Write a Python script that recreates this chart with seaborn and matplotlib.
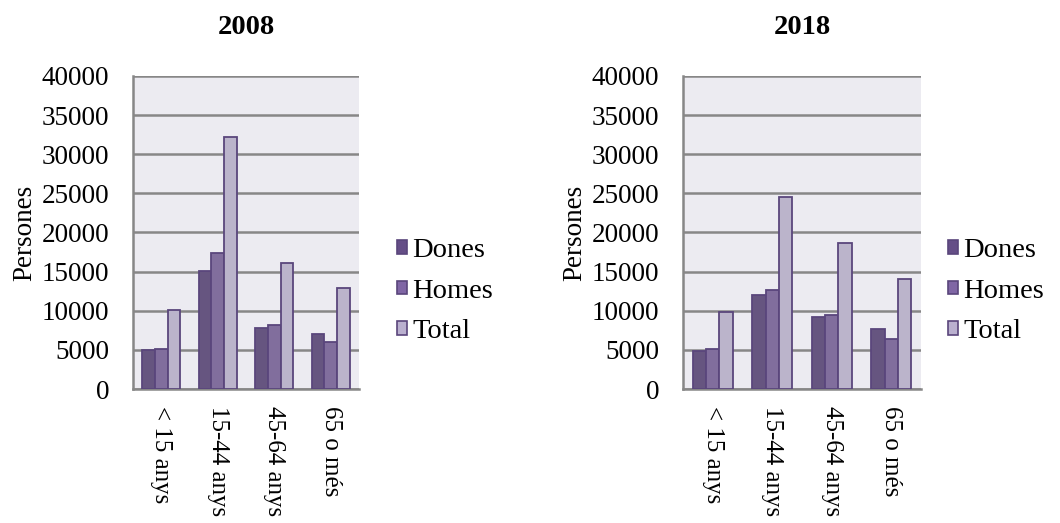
import pandas as pd
import matplotlib.pyplot as plt
import seaborn as sns
from matplotlib.patches import Patch

# age groups and series
groups = ['< 15 anys', '15-44 anys', '45-64 anys', '65 o més']
series = ['Dones', 'Homes', 'Total']

dones_2008 = [4950, 15020, 7850, 7000]
homes_2008 = [5160, 17320, 8190, 5970]
total_2008 = [10070, 32250, 16040, 12930]

dones_2018 = [4820, 11950, 9170, 7720]
homes_2018 = [5120, 12710, 9470, 6440]
total_2018 = [9810, 24570, 18640, 14120]

colors = ['#654e87', '#8066a5', '#bab0cf']
edge = '#5a467c'
grid_col = '#878787'
bg = '#ecebf1'

sns.set_style('white')
plt.rcParams['font.family'] = ['Liberation Serif', 'DejaVu Serif']
plt.rcParams['text.color'] = 'black'
plt.rcParams['xtick.color'] = 'black'
plt.rcParams['ytick.color'] = 'black'
plt.rcParams['axes.labelcolor'] = 'black'


def long_table(dones, homes, total):
    rows = []
    for name, vals in zip(series, [dones, homes, total]):
        for g, v in zip(groups, vals):
            rows.append({'grup': g, 'serie': name, 'persones': v})
    return pd.DataFrame(rows)


fig = plt.figure(figsize=(10.6, 5.23), dpi=100)
ax1 = fig.add_axes([0.1255, 0.2562, 0.2132, 0.5985])
ax2 = fig.add_axes([0.6443, 0.2562, 0.2245, 0.5985])

panels = [
    (ax1, '2008', long_table(dones_2008, homes_2008, total_2008)),
    (ax2, '2018', long_table(dones_2018, homes_2018, total_2018)),
]

for ax, year, df in panels:
    sns.barplot(data=df, x='grup', y='persones', hue='serie', order=groups,
                hue_order=series, palette=colors, width=0.67, ax=ax,
                edgecolor=edge, linewidth=1.3, legend=False, zorder=3)
    ax.set_facecolor(bg)
    ax.set_ylim(0, 40000)
    ax.set_yticks(range(0, 40001, 5000))
    ax.set_xlim(-0.5, 3.5)
    ax.yaxis.grid(True, color=grid_col, linewidth=1.8, zorder=0)
    ax.set_axisbelow(True)
    for s in ['top', 'right']:
        ax.spines[s].set_visible(False)
    for s in ['left', 'bottom']:
        ax.spines[s].set_color(grid_col)
        ax.spines[s].set_linewidth(1.8)
    ax.tick_params(axis='y', length=7, width=1.8, color=grid_col, pad=10,
                   labelsize=19.5)
    ax.tick_params(axis='x', which='major', length=0, pad=12, labelsize=18)
    ax.set_xticks(range(len(groups)))
    ax.set_xticklabels(groups, rotation=-90, va='top', ha='center')
    ax.set_xticks([-0.5, 0.5, 1.5, 2.5, 3.5], minor=True)
    ax.tick_params(axis='x', which='minor', length=7, width=1.8,
                   color=grid_col)
    ax.set_xlabel('')
    ax.set_ylabel('Persones', fontsize=19.5, labelpad=3)
    ax.set_title(year, fontsize=20.5, fontweight='bold', pad=30)

handles = [Patch(facecolor=c, edgecolor=edge, linewidth=1.2) for c in colors]
for x in [0.3745, 0.8945]:
    fig.legend(handles, series, loc='center left', bbox_to_anchor=(x, 0.443),
               frameon=False, fontsize=20.5, handlelength=0.36,
               handleheight=0.36, handletextpad=0.18, labelspacing=0.55,
               borderpad=0, borderaxespad=0)

fig.savefig('out.png', dpi=100)
